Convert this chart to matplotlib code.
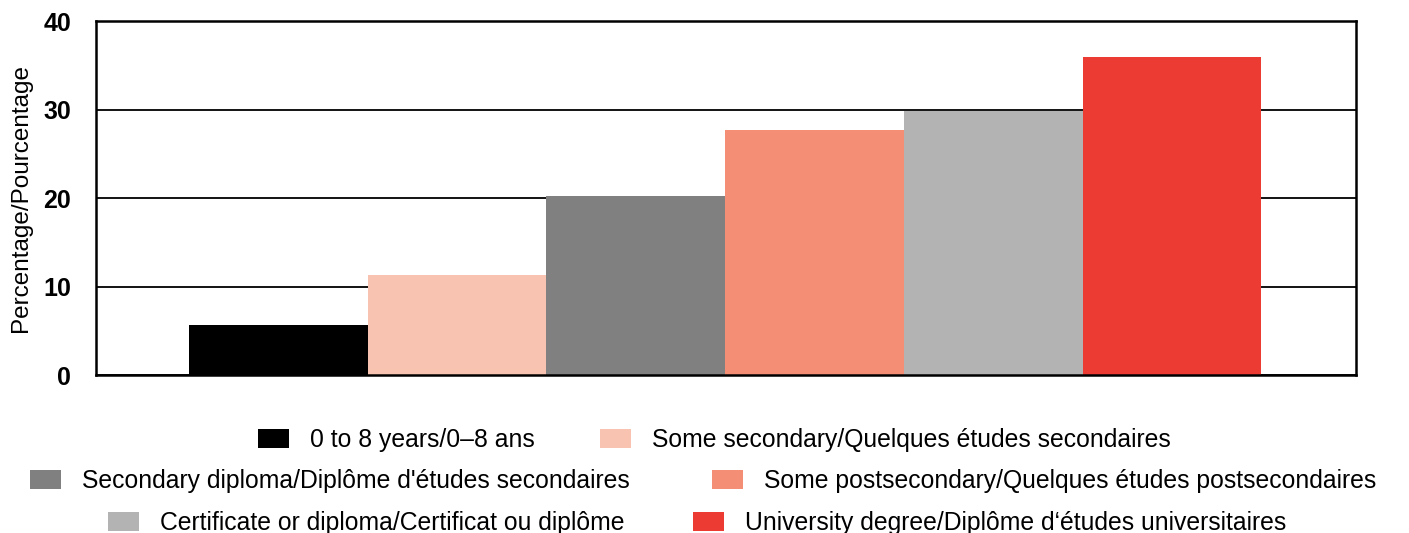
import matplotlib.pyplot as plt
import numpy as np
from matplotlib.patches import Patch

# education levels and percentages
categories = ['0 to 8 years/0\u20138 ans',
              'Some secondary/Quelques \u00e9tudes secondaires',
              "Secondary diploma/Dipl\u00f4me d'\u00e9tudes secondaires",
              'Some postsecondary/Quelques \u00e9tudes postsecondaires',
              'Certificate or diploma/Certificat ou dipl\u00f4me',
              'University degree/Dipl\u00f4me d\u2018\u00e9tudes universitaires']
values = [5.7, 11.3, 20.2, 27.7, 29.8, 35.9]
colors = ['#000000', '#F9C3B1', '#808080', '#F48F75', '#B3B3B3', '#EC3B32']
yticks = [0, 10, 20, 30, 40]

plt.rcParams['font.family'] = ['Liberation Sans', 'DejaVu Sans']

fig = plt.figure(figsize=(14.09, 5.33), dpi=100)
ax = fig.add_axes([0.0681, 0.2964, 0.8943, 0.6642])

x = np.arange(len(values))
ax.bar(x, values, width=1.0, color=colors, zorder=2)

ax.set_ylim(0, 40)
ax.set_xlim(-1.02, 6.03)
ax.set_yticks(yticks)
ax.set_yticklabels([str(t) for t in yticks], fontsize=18, fontweight='bold')
ax.set_xticks([])
ax.tick_params(axis='y', length=0, pad=18)
ax.set_ylabel('Percentage/Pourcentage', fontsize=17.5)
ax.yaxis.set_label_coords(-0.0505, 0.5)
ax.grid(axis='y', color='black', linewidth=1.3, zorder=1)
for s in ax.spines.values():
    s.set_linewidth(1.8)

# legend rows, two entries each
handles = [Patch(facecolor=c, edgecolor='none') for c in colors]
rows = [(0, 714, 440, 2.64), (2, 703, 481, 3.35), (4, 697, 523, 2.8)]
for i, cx, cy, sp in rows:
    fig.legend(handles[i:i + 2], categories[i:i + 2], ncol=2, loc='center',
               bbox_to_anchor=(cx / 1409, 1 - cy / 533), frameon=False,
               fontsize=17.8, handlelength=1.25, handleheight=0.85,
               handletextpad=0.85, columnspacing=sp, borderpad=0)

fig.savefig('out.png', dpi=100)
